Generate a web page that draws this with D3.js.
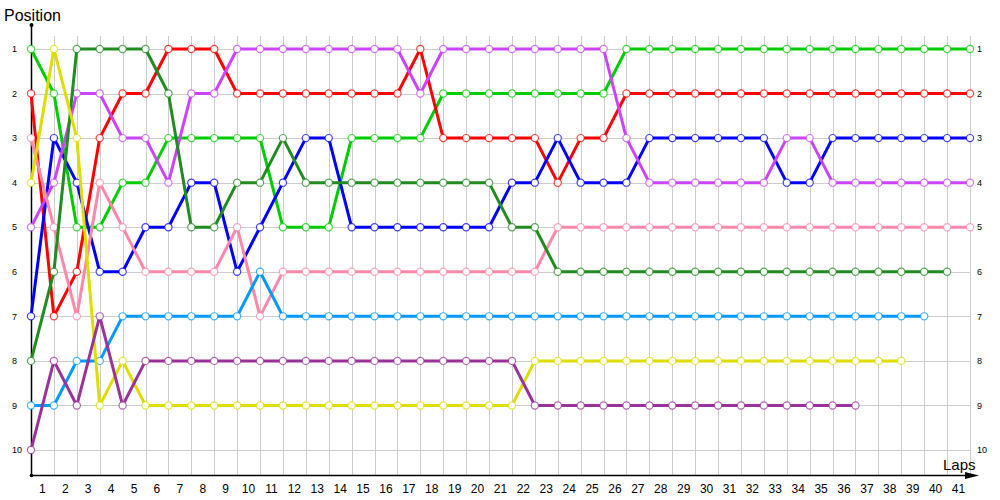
<!DOCTYPE html>
<html>
<head>
<meta charset="utf-8">
<script src="https://cdn.jsdelivr.net/npm/d3@7"></script>
<style>
  html, body { margin: 0; padding: 0; background: #fff; }
  svg { display: block; }
</style>
</head>
<body>
<svg id="chart" width="1000" height="500"></svg>
<script>
// ---- Data ----
const laps = d3.range(0, 42);              // 0..41
const positions = d3.range(1, 11);         // 1..10
const xTickLabels = d3.range(1, 42);       // 1..41

const lightGreen = [1,2,5,5,4,4,3,3,3,3,3,5,5,5,3,3,3,3,2,2,2,2,2,2,2,2,1,1,1,1,1,1,1,1,1,1,1,1,1,1,1,1];
const red        = [2,7,6,3,2,2,1,1,1,2,2,2,2,2,2,2,2,1,3,3,3,3,3,4,3,3,2,2,2,2,2,2,2,2,2,2,2,2,2,2,2,2];
const blue       = [7,3,4,6,6,5,5,4,4,6,5,4,3,3,5,5,5,5,5,5,5,4,4,3,4,4,4,3,3,3,3,3,3,4,4,3,3,3,3,3,3,3];
const magenta    = [5,4,2,2,3,3,4,2,2,1,1,1,1,1,1,1,1,2,1,1,1,1,1,1,1,1,3,4,4,4,4,4,4,3,3,4,4,4,4,4,4,4];
const pink       = [3,5,7,4,5,6,6,6,6,5,7,6,6,6,6,6,6,6,6,6,6,6,6,5,5,5,5,5,5,5,5,5,5,5,5,5,5,5,5,5,5,5];
const darkGreen  = [8,6,1,1,1,1,2,5,5,4,4,3,4,4,4,4,4,4,4,4,4,5,5,6,6,6,6,6,6,6,6,6,6,6,6,6,6,6,6,6,6];
const lightBlue  = [9,9,8,8,7,7,7,7,7,7,6,7,7,7,7,7,7,7,7,7,7,7,7,7,7,7,7,7,7,7,7,7,7,7,7,7,7,7,7,7];
const yellow     = [4,1,3,9,8,9,9,9,9,9,9,9,9,9,9,9,9,9,9,9,9,9,8,8,8,8,8,8,8,8,8,8,8,8,8,8,8,8,8];
const darkPurple = [10,8,9,7,9,8,8,8,8,8,8,8,8,8,8,8,8,8,8,8,8,8,9,9,9,9,9,9,9,9,9,9,9,9,9,9,9];

const seriesNames  = ["lightGreen","red","blue","magenta","pink","darkGreen","lightBlue","yellow","darkPurple"];
const seriesValues = [lightGreen, red, blue, magenta, pink, darkGreen, lightBlue, yellow, darkPurple];
const seriesColors = ["#00cc00","#ff0000","#0000ff","#cc44ff","#ff88aa","#228b22","#0099ff","#dddd00","#993399"];

// ---- Layout ----
const svg = d3.select("#chart");
const x = d3.scaleLinear().domain([0, 41]).range([31, 970]);
const y = d3.scaleLinear().domain([1, 10]).range([49, 450]);
const axisY = 475;
const gridTop = 36;

// Grid
const grid = svg.append("g").attr("stroke", "#cccccc").attr("stroke-width", 1).attr("shape-rendering", "crispEdges");
grid.selectAll("line.v").data(laps.slice(1)).join("line")
  .attr("x1", d => Math.round(x(d)) + 0.5).attr("x2", d => Math.round(x(d)) + 0.5)
  .attr("y1", gridTop).attr("y2", axisY);
grid.selectAll("line.h").data(positions).join("line")
  .attr("x1", x(0)).attr("x2", x(41))
  .attr("y1", d => Math.round(y(d)) + 0.5).attr("y2", d => Math.round(y(d)) + 0.5);

// Axes
const ax = svg.append("g");
ax.append("line").attr("x1", Math.round(x(0)) + 0.5).attr("x2", Math.round(x(0)) + 0.5)
  .attr("y1", 25).attr("y2", axisY).attr("stroke", "#000").attr("stroke-width", 1.5);
ax.append("line").attr("x1", x(0)).attr("x2", 968)
  .attr("y1", axisY + 0.5).attr("y2", axisY + 0.5).attr("stroke", "#000").attr("stroke-width", 1.5);
ax.append("path").attr("d", `M965,${axisY - 3} L979,${axisY + 0.5} L965,${axisY + 4} Z`).attr("fill", "#000");
ax.append("circle").attr("cx", Math.round(x(0)) + 0.5).attr("cy", 25).attr("r", 2).attr("fill", "#000");
ax.append("circle").attr("cx", Math.round(x(0)) + 0.5).attr("cy", axisY + 0.5).attr("r", 1.8).attr("fill", "#000");

// X tick labels
svg.append("g").selectAll("text").data(xTickLabels).join("text")
  .attr("x", d => x(d) - 11.5).attr("y", 493)
  .attr("text-anchor", "middle")
  .attr("font-family", "Liberation Sans, Arial, sans-serif").attr("font-size", 12)
  .attr("fill", "#000")
  .text(d => d);

// Y tick labels left and right
const yl = svg.append("g").attr("font-family", "Liberation Sans, Arial, sans-serif").attr("font-size", 9).attr("fill", "#000");
yl.selectAll("text.l").data(positions).join("text")
  .attr("x", 12).attr("y", d => y(d) + 3.2).text(d => d);
const yr = svg.append("g").attr("font-family", "Liberation Sans, Arial, sans-serif").attr("font-size", 9).attr("fill", "#000");
yr.selectAll("text").data(positions).join("text")
  .attr("x", 977).attr("y", d => y(d) + 3.2).text(d => d);

// Axis titles
svg.append("text").attr("x", 4).attr("y", 21).attr("font-family", "Liberation Sans, Arial, sans-serif")
  .attr("font-size", 16).attr("fill", "#000").text("Position");
svg.append("text").attr("x", 943).attr("y", 470).attr("font-family", "Liberation Sans, Arial, sans-serif")
  .attr("font-size", 15).attr("fill", "#000").text("Laps");

// Series
const line = d3.line().x((d, i) => x(i)).y(d => y(d));
seriesValues.forEach((vals, k) => {
  const g = svg.append("g").attr("class", seriesNames[k]);
  g.append("path").datum(vals).attr("d", line)
    .attr("fill", "none").attr("stroke", seriesColors[k]).attr("stroke-width", 3)
    .attr("stroke-linejoin", "round");
  g.selectAll("circle").data(vals).join("circle")
    .attr("cx", (d, i) => x(i)).attr("cy", d => y(d)).attr("r", 3.6)
    .attr("fill", "#fff").attr("stroke", seriesColors[k]).attr("stroke-opacity", 0.75).attr("stroke-width", 1.2);
});
</script>
</body>
</html>
